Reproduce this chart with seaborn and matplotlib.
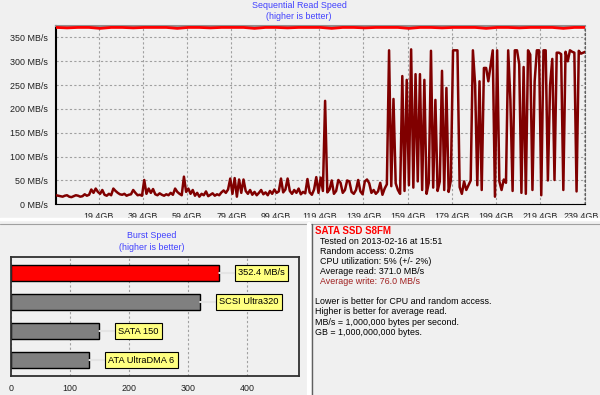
import numpy as np
import matplotlib
matplotlib.use("Agg")
import matplotlib.pyplot as plt
import matplotlib.transforms as mtransforms
from matplotlib.ticker import FixedLocator
import seaborn as sns

# ---- data ----
read_speed = [371, 370, 371, 371, 369, 371, 371, 370, 371, 371,
              371, 369, 371, 371, 370, 371, 371, 371, 369, 371,
              371, 370, 371, 371, 371, 369, 371, 371, 370, 371,
              371, 371, 369, 371, 371, 370, 371, 371, 371, 369,
              371, 371, 370, 371, 371, 371, 369, 371, 371]  # every 5 GB

write_speed = [19, 18, 17, 16, 18, 19, 16, 15, 17, 19,
               18, 16, 17, 21, 18, 20, 31, 24, 33, 26,
               22, 30, 20, 18, 22, 19, 33, 28, 24, 21,
               20, 22, 18, 20, 21, 30, 24, 19, 20, 18,
               51, 22, 33, 24, 32, 21, 19, 23, 20, 18,
               21, 19, 24, 20, 33, 26, 22, 19, 58, 26,
               33, 22, 30, 18, 24, 16, 22, 19, 27, 17,
               20, 23, 18, 21, 19, 25, 29, 24, 31, 54,
               22, 55, 16, 52, 24, 52, 28, 22, 30, 20,
               26, 19, 24, 30, 21, 25, 19, 28, 22, 31,
               24, 27, 54, 25, 31, 54, 28, 22, 30, 24,
               33, 21, 26, 23, 53, 25, 20, 31, 57, 24,
               56, 28, 217, 25, 31, 50, 22, 28, 51, 45,
               24, 30, 50, 48, 26, 22, 30, 51, 27, 21,
               48, 52, 44, 24, 30, 22, 27, 45, 20, 33,
               42, 323, 38, 221, 44, 30, 22, 269, 28, 261,
               40, 325, 35, 273, 48, 273, 30, 261, 22, 45,
               322, 35, 219, 28, 48, 280, 30, 244, 26, 50,
               323, 323, 323, 36, 22, 48, 30, 40, 50, 323,
               252, 40, 258, 30, 286, 286, 258, 290, 323, 16,
               323, 48, 30, 52, 45, 323, 219, 28, 323, 323,
               294, 24, 288, 22, 323, 314, 30, 258, 323, 323,
               19, 323, 323, 50, 250, 305, 51, 318, 318, 315,
               30, 320, 300, 323, 320, 318, 27, 322, 316, 318,
               320]  # every 1 GB

x_ticks = [19.4, 39.4, 59.4, 79.4, 99.4, 119.4, 139.4, 159.4, 179.4, 199.4, 219.4, 239.4]
x_labels = ["19,4GB", "39,4GB", "59,4GB", "79,4GB", "99,4GB", "119,4GB",
            "139,4GB", "159,4GB", "179,4GB", "199,4GB", "219,4GB", "239,4GB"]
y_ticks = [0, 50, 100, 150, 200, 250, 300, 350]
y_labels = ["0 MB/s", "50 MB/s", "100 MB/s", "150 MB/s", "200 MB/s",
            "250 MB/s", "300 MB/s", "350 MB/s"]

burst_names = ["352.4 MB/s", "SCSI Ultra320", "SATA 150", "ATA UltraDMA 6"]
burst_values = [352.4, 320, 150, 133]
burst_colors = ["#ff0000", "#808080", "#808080", "#808080"]
burst_ticks = [0, 100, 200, 300, 400]

info_title = "SATA SSD S8FM"
info_lines = ["Tested on 2013-02-16 at 15:51", "Random access: 0.2ms",
              "CPU utilization: 5% (+/- 2%)", "Average read: 371.0 MB/s"]
info_write = "Average write: 76.0 MB/s"
info_notes = ["Lower is better for CPU and random access.",
              "Higher is better for average read.",
              "MB/s = 1,000,000 bytes per second.",
              "GB = 1,000,000,000 bytes."]

# ---- style ----
sns.set_style("white")
plt.rcParams["font.family"] = ["Liberation Sans", "DejaVu Sans"]
FS = 6.4
plt.rcParams["font.size"] = FS

W, H = 600, 395
BG = "#f0f0f0"
BLUE = "#4040ff"
fig = plt.figure(figsize=(W / 100, H / 100), dpi=100, facecolor=BG)


def fx(px):
    return px / W


def fy(py):
    return 1 - py / H


# separators
fig.add_artist(plt.Line2D([0, 1], [fy(219.5), fy(219.5)], color="white", lw=2.5))
fig.add_artist(plt.Line2D([0, 1], [fy(224), fy(224)], color="#a0a0a0", lw=0.8))
fig.add_artist(plt.Line2D([fx(308.5), fx(308.5)], [fy(224), 0], color="white", lw=3))
fig.add_artist(plt.Line2D([fx(312), fx(312)], [fy(224), 0], color="#606060", lw=1))

# ---- sequential read chart ----
ax = fig.add_axes([fx(56), fy(204.3), fx(528.5), (204.3 - 26) / H])
ax.set_facecolor(BG)
read_gb = np.arange(len(read_speed)) * 5.0
write_gb = np.arange(len(write_speed)) * 1.0
sns.lineplot(x=write_gb, y=write_speed, color="#800000", lw=1.8, ax=ax, zorder=3)
sns.lineplot(x=read_gb, y=read_speed, color="#ff0000", lw=2, ax=ax, zorder=4)
ax.set_xlim(0, 239.6)
ax.set_ylim(0, 374)
ax.set_xticks(x_ticks)
ax.set_xticklabels(x_labels)
ax.set_yticks(y_ticks)
ax.set_yticklabels(y_labels)
ax.xaxis.set_minor_locator(FixedLocator(np.arange(4.4, 239, 5)))
ax.tick_params(axis="both", which="major", direction="out", length=3, width=0.8,
               color="#404040", labelsize=FS, pad=2.5, labelcolor="#202020")
ax.tick_params(axis="x", which="minor", direction="out", length=2, width=0.6, color="#404040")
ax.grid(True, which="major", color="#a0a0a0", ls=(0, (2, 2)), lw=0.8)
ax.set_xlabel("")
ax.set_ylabel("")
ax.spines["left"].set_color("black")
ax.spines["left"].set_linewidth(1.5)
ax.spines["bottom"].set_color("black")
ax.spines["bottom"].set_linewidth(0.8)
ax.spines["top"].set_color("#909090")
ax.spines["top"].set_linewidth(1.5)
ax.spines["right"].set_color("#606060")
ax.spines["right"].set_linestyle((0, (2, 2)))
for s in ax.spines.values():
    s.set_visible(True)
# keep the last tick label inside the picture
last = ax.get_xticklabels()[-1]
last.set_horizontalalignment("right")
last.set_transform(last.get_transform() + mtransforms.ScaledTranslation(15 / 100, 0, fig.dpi_scale_trans))

fig.text(fx(299), fy(6), "Sequential Read Speed", color=BLUE, ha="center", va="center", fontsize=FS)
fig.text(fx(299), fy(16.7), "(higher is better)", color=BLUE, ha="center", va="center", fontsize=FS)

# ---- burst speed chart ----
bx = fig.add_axes([fx(10.7), fy(376), fx(288.3), 119 / H])
bx.set_facecolor(BG)
sns.barplot(x=burst_values, y=burst_names, hue=burst_names, palette=burst_colors,
            orient="h", width=0.55, edgecolor="black", linewidth=1, legend=False,
            saturation=1, ax=bx)
bx.set_xlim(0, 487)
bx.set_ylim(3.55, -0.55)
bx.set_xticks(burst_ticks)
bx.xaxis.set_minor_locator(FixedLocator([50, 150, 250, 350, 450]))
bx.set_yticks([])
bx.set_xlabel("")
bx.set_ylabel("")
bx.tick_params(axis="x", which="major", direction="out", length=3, width=0.8,
               color="#404040", labelsize=FS, pad=3, labelcolor="#202020")
bx.tick_params(axis="x", which="minor", direction="out", length=2, width=0.6, color="#404040")
bx.grid(True, axis="x", which="major", color="#a0a0a0", ls=(0, (2, 2)), lw=0.8)
bx.set_axisbelow(True)
for s in bx.spines.values():
    s.set_visible(True)
    s.set_color("#303030")
    s.set_linewidth(1.3)

for i, (name, val) in enumerate(zip(burst_names, burst_values)):
    bx.annotate(name, xy=(val, i), xytext=(13.5, 0), textcoords="offset points",
                ha="left", va="center", fontsize=FS + 0.3, color="black",
                bbox=dict(boxstyle="square,pad=0.35", fc="#ffff80", ec="black", lw=0.8),
                arrowprops=dict(arrowstyle="-", color="#e4e4e4", lw=1.5, shrinkA=0, shrinkB=0))

fig.text(fx(152), fy(236), "Burst Speed", color=BLUE, ha="center", va="center", fontsize=FS)
fig.text(fx(152), fy(247.3), "(higher is better)", color=BLUE, ha="center", va="center", fontsize=FS)

# ---- info panel ----
fig.text(fx(315), fy(231), info_title, color="#ff0000", fontweight="bold",
         ha="left", va="center", fontsize=FS + 0.6)
for k, line in enumerate(info_lines):
    fig.text(fx(320), fy(241.7 + 10 * k), line, color="black", ha="left", va="center", fontsize=FS)
fig.text(fx(320), fy(281.7), info_write, color="#a02020", ha="left", va="center", fontsize=FS)
for k, line in enumerate(info_notes):
    fig.text(fx(315), fy(301.7 + 10.3 * k), line, color="black", ha="left", va="center", fontsize=FS)

fig.savefig("out.png", dpi=100, facecolor=BG)
